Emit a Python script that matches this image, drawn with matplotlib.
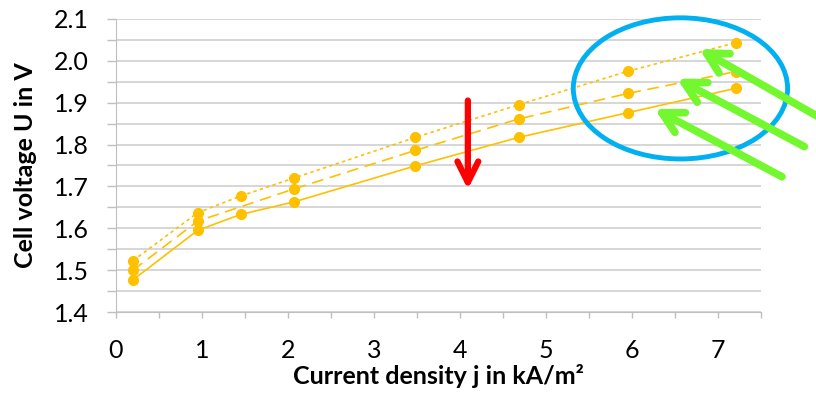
import matplotlib
matplotlib.use("Agg")
import matplotlib.pyplot as plt
from matplotlib.patches import Ellipse
import numpy as np

# data
x_full = [0.2, 0.95, 1.45, 2.07, 3.48, 4.68, 5.95, 7.2]
x_dashed = [0.2, 0.95, 2.07, 3.48, 4.68, 5.95, 7.2]
u_solid = [1.477, 1.595, 1.633, 1.663, 1.749, 1.817, 1.876, 1.934]
u_dashed = [1.500, 1.617, 1.694, 1.786, 1.861, 1.922, 1.974]
u_dotted = [1.523, 1.637, 1.677, 1.720, 1.817, 1.895, 1.975, 2.043]

x_labels = ['0', '', '1', '', '2', '', '3', '', '4', '', '5', '', '6', '', '7', '']
y_labels = ['1.4', '', '1.5', '', '1.6', '', '1.7', '', '1.8', '', '1.9', '', '2.0', '', '2.1']

plt.rcParams['font.family'] = ['Lato', 'DejaVu Sans']

fig = plt.figure(figsize=(8.16, 3.93), dpi=100)
ax = fig.add_axes([0.142, 0.206, 0.791, 0.746])

orange = '#FFC000'
ax.plot(x_full, u_solid, color=orange, lw=1.2, ls='-', marker='o', ms=7, zorder=3)
ax.plot(x_dashed, u_dashed, color=orange, lw=1.2, ls=(0, (7, 4)), marker='o', ms=7, zorder=3)
ax.plot(x_full, u_dotted, color=orange, lw=1.2, ls=(0, (2, 2)), marker='o', ms=7, zorder=3)

ax.set_xlim(0, 7.5)
ax.set_ylim(1.4, 2.1)
ax.set_xticks(np.arange(0, 7.51, 0.5))
ax.set_xticklabels(x_labels)
ax.set_yticks(np.arange(1.4, 2.101, 0.05))
ax.set_yticklabels(y_labels)
ax.tick_params(axis='x', labelsize=18, length=4.5, color='#bfbfbf', width=1, pad=15)
ax.tick_params(axis='y', labelsize=18, length=6.5, color='#bfbfbf', width=1, pad=13)
ax.grid(axis='y', color='#d0d0d0', lw=1.2)
for s in ['top', 'right']:
    ax.spines[s].set_visible(False)
for s in ['left', 'bottom']:
    ax.spines[s].set_color('#bfbfbf')

ax.set_xlabel('Current density j in kA/m²', fontsize=18, fontweight='bold', labelpad=1)
ax.set_ylabel('Cell voltage U in V', fontsize=18, fontweight='bold', labelpad=12)

# annotations
ax.add_patch(Ellipse((6.56, 1.934), 2.49, 0.337, fill=False, ec='#00B0F0', lw=3.5,
                     clip_on=False, zorder=4))
ax.annotate('', xy=(4.09, 1.693), xytext=(4.09, 1.905), annotation_clip=False,
            arrowprops=dict(arrowstyle='->,head_length=1.5,head_width=0.75', color='#FF0000',
                            lw=4.5, shrinkA=0, shrinkB=0), zorder=5)
green = '#73F82F'
for tip, tail in [((6.78, 2.028), (8.3, 1.85)), ((6.52, 1.957), (8.0, 1.795)),
                  ((6.26, 1.885), (7.74, 1.723))]:
    ax.annotate('', xy=tip, xytext=tail, annotation_clip=False,
                arrowprops=dict(arrowstyle='->,head_length=1.5,head_width=0.8', color=green,
                                lw=5.5, shrinkA=0, shrinkB=0), zorder=5)

fig.savefig('out.png', dpi=100)
